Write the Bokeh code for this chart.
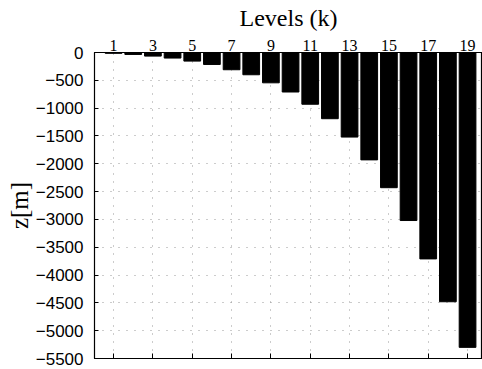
from bokeh.plotting import figure
from bokeh.models import LinearAxis, FixedTicker, Range1d, ColumnDataSource
from bokeh.embed import file_html
from bokeh.resources import INLINE

levels = list(range(1, 20))
depth = [-15, -35, -65, -100, -155, -215, -310, -400, -545, -710, -930,
         -1190, -1520, -1930, -2430, -3020, -3710, -4480, -5300]
x_ticks = [1, 3, 5, 7, 9, 11, 13, 15, 17, 19]
y_ticks = [0, -500, -1000, -1500, -2000, -2500, -3000, -3500, -4000, -4500, -5000, -5500]

src = ColumnDataSource(dict(k=levels, z=depth))

p = figure(width=482, height=369, output_backend="svg", toolbar_location=None,
           x_range=Range1d(0.03, 19.76), y_range=Range1d(-5500, 0),
           x_axis_location=None, y_axis_location=None,
           min_border_left=94, min_border_right=0, min_border_top=52, min_border_bottom=11)
p.background_fill_color = "white"
p.border_fill_color = "white"
p.outline_line_color = "black"
p.outline_line_width = 1.2

p.vbar(x="k", top=0, bottom="z", width=0.85, source=src,
       fill_color="black", line_color="black")

serif = "Liberation Serif"
sans = "Liberation Sans"

top = LinearAxis(ticker=FixedTicker(ticks=x_ticks), axis_label="Levels (k)")
top.axis_label_text_font = serif
top.axis_label_text_font_style = "normal"
top.axis_label_text_font_size = "24px"
top.axis_label_text_color = "black"
top.axis_label_standoff = 6
top.major_label_text_font = serif
top.major_label_text_font_size = "16px"
top.major_label_text_color = "black"
top.major_label_standoff = 2
top.major_tick_in = 0
top.major_tick_out = 0
top.minor_tick_in = 0
top.minor_tick_out = 0
top.axis_line_color = "black"
p.add_layout(top, "above")

bottom = LinearAxis(ticker=FixedTicker(ticks=x_ticks))
bottom.major_label_overrides = {t: "" for t in x_ticks}
bottom.major_label_standoff = 0
bottom.major_tick_in = 5
bottom.major_tick_out = 0
bottom.minor_tick_in = 0
bottom.minor_tick_out = 0
p.add_layout(bottom, "below")

left = LinearAxis(ticker=FixedTicker(ticks=y_ticks), axis_label="z[m]")
left.axis_label_text_font = serif
left.axis_label_text_font_style = "normal"
left.axis_label_text_font_size = "25px"
left.axis_label_text_color = "black"
left.axis_label_standoff = 0
left.major_label_text_font = sans
left.major_label_text_font_size = "17px"
left.major_label_text_color = "black"
left.major_label_standoff = 11
left.major_tick_in = 4
left.major_tick_out = 0
left.minor_tick_in = 0
left.minor_tick_out = 0
p.add_layout(left, "left")

p.xgrid.ticker = FixedTicker(ticks=x_ticks)
p.ygrid.ticker = FixedTicker(ticks=y_ticks)
for g in (p.xgrid, p.ygrid):
    g.grid_line_color = "#999999"
    g.grid_line_dash = "1 7"
    g.grid_line_width = 1

open("out.html", "w").write(file_html(p, INLINE))
